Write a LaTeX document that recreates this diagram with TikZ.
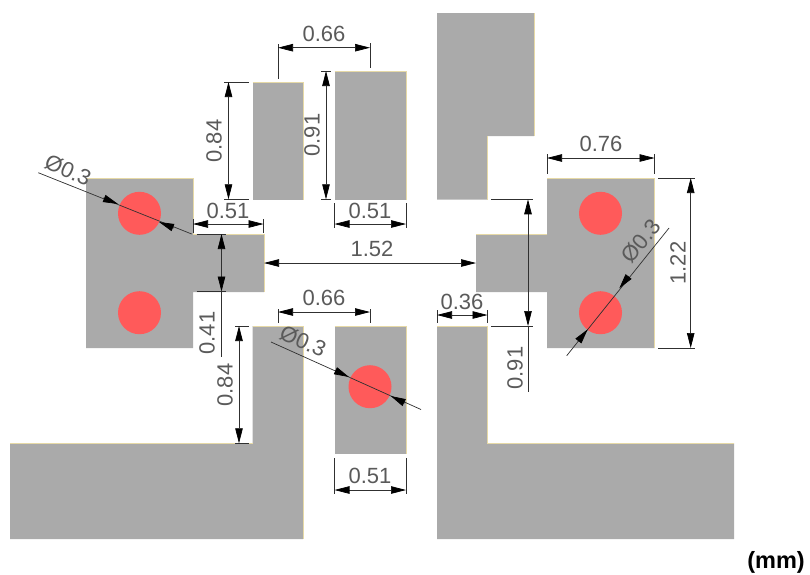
\documentclass[tikz,border=0pt]{standalone}
\usepackage{fontspec}
\setmainfont{Liberation Sans}
\usetikzlibrary{arrows.meta}
\definecolor{padgray}{HTML}{AAAAAA}
\definecolor{padedge}{HTML}{E6D9A6}
\definecolor{viared}{HTML}{FF5A5A}
\definecolor{dimtext}{HTML}{5A5A5A}
\definecolor{dimline}{HTML}{303030}
\tikzset{
  pad/.style={fill=padgray,draw=none},
  padrim/.style={draw=padedge,line width=0.7pt},
  via/.style={circle,fill=viared,draw=none,minimum size=43pt,inner sep=0pt},
  dimlab/.style={text=dimtext,font=\fontsize{22}{22}\selectfont,inner sep=0pt},
  extline/.style={draw=dimline,line width=0.7pt},
  dimline/.style={draw=dimline,line width=0.7pt,{Triangle[length=15pt,width=7.5pt,black]}-{Triangle[length=15pt,width=7.5pt,black]}},
  endarrow/.style={draw=dimline,line width=0.7pt,-{Triangle[length=15pt,width=7.5pt,black]}},
  unitlab/.style={font=\fontsize{23.5}{23.5}\selectfont\bfseries,text=black,inner sep=0pt}
}
\begin{document}
\begin{tikzpicture}[x=1pt,y=-1pt]
\useasboundingbox (0,0) rectangle (810,574);
% pads
\fill[pad] (252.5,82) rectangle (303,199.5);
\fill[pad] (334.5,71) rectangle (406,199.5);
\fill[pad] (437,13) -- (534,13) -- (534,136) -- (487.5,136) -- (487.5,199.5) -- (437,199.5) -- cycle;
\fill[pad] (86,178) -- (193,178) -- (193,234) -- (264,234) -- (264,292) -- (193,292) -- (193,348) -- (86,348) -- cycle;
\fill[pad] (547,178) -- (654.5,178) -- (654.5,348) -- (547,348) -- (547,292) -- (476,292) -- (476,234) -- (547,234) -- cycle;
\fill[pad] (10,443.3) -- (252.5,443.3) -- (252.5,326) -- (303,326) -- (303,539) -- (10,539) -- cycle;
\fill[pad] (334.5,326) rectangle (406,454);
\fill[pad] (437,326) -- (487.5,326) -- (487.5,443.3) -- (734,443.3) -- (734,539) -- (437,539) -- cycle;
% rims
\draw[padrim] (252.5,82) -- (303,82) -- (303,199.5);
\draw[padrim] (334.5,71) -- (406,71) -- (406,199.5);
\draw[padrim] (534,13) -- (534,136) (487.5,136) -- (487.5,199.5);
\draw[padrim] (86,178) -- (193,178) -- (193,234) -- (264,234) -- (264,292);
\draw[padrim] (547,178) -- (654.5,178) -- (654.5,348) (476,234) -- (547,234);
\draw[padrim] (10,443.3) -- (252.5,443.3) (252.5,326) -- (303,326) -- (303,539);
\draw[padrim] (334.5,326) -- (406,326) -- (406,454);
\draw[padrim] (437,326) -- (487.5,326) -- (487.5,443.3) -- (734,443.3);
% vias
\node[via] (v1) at (139.5,213.3) {};
\node[via] (v2) at (139.5,312.7) {};
\node[via] (v3) at (600.5,213.3) {};
\node[via] (v4) at (600.5,312.7) {};
\node[via] (v5) at (370,386.7) {};
% 0.66 top
\draw[extline] (278,44) -- (278,79) (370,43) -- (370,68);
\draw[dimline] (278,47.7) -- (370,47.7);
\node[dimlab] (t1) at (324,34) {0.66};
% 0.84 top left
\draw[extline] (224,82) -- (249,82) (224,199.3) -- (249,199.3);
\draw[dimline] (228.5,82) -- (228.5,199.3);
\node[dimlab,rotate=90] (t2) at (214,141) {0.84};
% 0.91 top
\draw[extline] (321,71) -- (331,71) (321,199.3) -- (331,199.3);
\draw[dimline] (326,71) -- (326,199.3);
\node[dimlab,rotate=90] (t3) at (312,135) {0.91};
% 0.51 left
\draw[extline] (193,219) -- (193,233) (263.5,219) -- (263.5,233);
\draw[dimline] (193,224) -- (263.5,224);
\node[dimlab] (t4) at (228,211) {0.51};
% 0.51 mid
\draw[extline] (334.5,203) -- (334.5,228) (406,203) -- (406,228);
\draw[dimline] (334.5,224) -- (406,224);
\node[dimlab] (t5) at (370,211) {0.51};
% 1.52
\draw[dimline] (264,263) -- (476,263);
\node[dimlab] (t6) at (372,249) {1.52};
% 0.41
\draw[extline] (196.5,234) -- (226,234) (196.5,291.5) -- (226,291.5);
\draw[dimline] (221.5,234) -- (221.5,291.5);
\draw[extline] (221.5,291.5) -- (221.5,357);
\node[dimlab,rotate=90] (t7) at (207,333) {0.41};
% 0.84 lower
\draw[extline] (235,326) -- (249,326) (235,443.3) -- (249,443.3);
\draw[dimline] (239,326) -- (239,443.3);
\node[dimlab,rotate=90] (t8) at (225,385) {0.84};
% 0.66 lower
\draw[extline] (278,309) -- (278,323) (370,309) -- (370,323);
\draw[dimline] (278,312) -- (370,312);
\node[dimlab] (t9) at (324,298) {0.66};
% 0.51 bottom
\draw[extline] (334.5,458) -- (334.5,494) (406,458) -- (406,494);
\draw[dimline] (334.5,490) -- (406,490);
\node[dimlab] (t10) at (370,476) {0.51};
% 0.36
\draw[extline] (437,310) -- (437,323) (487.5,310) -- (487.5,323);
\draw[dimline] (437,315) -- (487.5,315);
\node[dimlab] (t11) at (462,302) {0.36};
% 0.91 right
\draw[extline] (491,199.3) -- (533,199.3) (491,326) -- (533,326);
\draw[dimline] (528,199.3) -- (528,326);
\draw[extline] (528,326) -- (528,392);
\node[dimlab,rotate=90] (t12) at (515,368) {0.91};
% 0.76
\draw[extline] (547,154) -- (547,174) (654.5,154) -- (654.5,174);
\draw[dimline] (547,158) -- (654.5,158);
\node[dimlab] (t13) at (601,144) {0.76};
% 1.22
\draw[extline] (658,178) -- (695,178) (658,348) -- (695,348);
\draw[dimline] (690.7,178) -- (690.7,348);
\node[dimlab,rotate=90] (t14) at (678,263) {1.22};
% diameter left
\coordinate (d1a) at (38.3,172.7);
\coordinate (d1b) at (191.7,234);
\draw[extline] (d1a) -- (d1b);
\draw[endarrow] (103,198) -- (118,204);
\draw[endarrow] (174,228) -- (159,222);
\node[dimlab,rotate=-24] (t15) at (68,170) {Ø0.3};
% diameter lower
\coordinate (d2a) at (271,342);
\coordinate (d2b) at (421,409.5);
\draw[extline] (d2a) -- (d2b);
\draw[endarrow] (335,370.5) -- (349,377);
\draw[endarrow] (405,403) -- (390.7,396);
\node[dimlab,rotate=-24] (t16) at (303,341) {Ø0.3};
% diameter right
\coordinate (d3a) at (669,228);
\coordinate (d3b) at (566.7,355.7);
\draw[extline] (d3a) -- (d3b);
\draw[endarrow] (629,276) -- (619.3,288.3);
\draw[endarrow] (578,341.5) -- (587.7,329.3);
\node[dimlab,rotate=51] (t17) at (641,241) {Ø0.3};
% unit
\node[unitlab,anchor=east] (u) at (805,562) {(mm)};
\end{tikzpicture}
\end{document}
